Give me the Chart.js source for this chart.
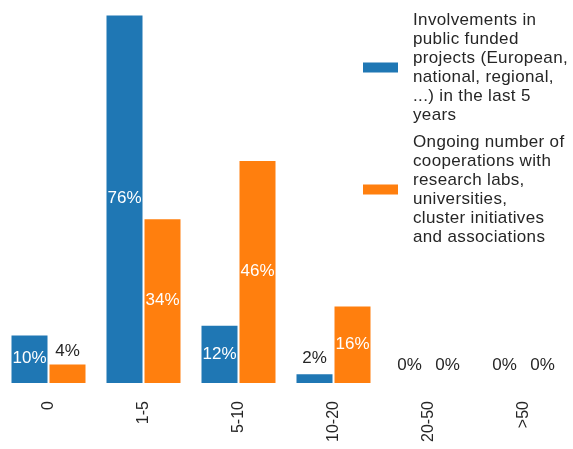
<!DOCTYPE html>
<html>
<head>
<meta charset="utf-8">
<script src="https://cdn.jsdelivr.net/npm/chart.js@4"></script>
<style>
  html, body { margin: 0; padding: 0; background: #fff; }
  #chart { display: block; }
</style>
</head>
<body>
<canvas id="chart" width="573" height="449"></canvas>
<script>
// Bins of the count question
const categories = ['0', '1-5', '5-10', '10-20', '20-50', '>50'];

// Share of answers per bin (%)
const publicProjects = [10, 76, 12, 2, 0, 0];
const researchCooperations = [4, 34, 46, 16, 0, 0];

// Legend text, already broken into lines
const publicProjectsLabel = ['Involvements in', 'public funded', 'projects (European,', 'national, regional,', '...) in the last 5', 'years'];
const researchCooperationsLabel = ['Ongoing number of', 'cooperations with', 'research labs,', 'universities,', 'cluster initiatives', 'and associations'];

const BLUE = '#1f77b4';
const ORANGE = '#ff7f0e';
const TEXT = '#262626';
const FONT = '"Liberation Sans", Arial, sans-serif';

// Percent labels: white inside tall bars, dark above short ones
const valueLabels = {
    id: 'valueLabels',
    afterDatasetsDraw(chart) {
        const ctx = chart.ctx;
        ctx.save();
        ctx.font = '17px ' + FONT;
        ctx.textAlign = 'center';
        ctx.textBaseline = 'middle';
        chart.data.datasets.forEach((ds, i) => {
            chart.getDatasetMeta(i).data.forEach((bar, j) => {
                const v = ds.data[j];
                if (v >= 10) {
                    ctx.fillStyle = '#fff';
                    ctx.fillText(v + '%', bar.x, (bar.y + bar.base) / 2);
                } else {
                    ctx.fillStyle = TEXT;
                    ctx.fillText(v + '%', bar.x, bar.y - (18 - 1.5 * v));
                }
            });
        });
        ctx.restore();
    }
};

// Legend drawn over the top right of the plot
const overlayLegend = {
    id: 'overlayLegend',
    afterDraw(chart) {
        const ctx = chart.ctx;
        const lineH = 19;
        const blocks = [
            { color: BLUE, lines: publicProjectsLabel, top: 20 },
            { color: ORANGE, lines: researchCooperationsLabel, top: 142 }
        ];
        ctx.save();
        ctx.font = '17px ' + FONT;
        ctx.letterSpacing = '0.35px';
        ctx.textAlign = 'left';
        ctx.textBaseline = 'middle';
        blocks.forEach(b => {
            const mid = b.top + (b.lines.length - 1) * lineH / 2;
            ctx.fillStyle = b.color;
            ctx.fillRect(363, mid - 5, 35, 10);
            ctx.fillStyle = TEXT;
            b.lines.forEach((line, k) => {
                ctx.fillText(line, 413, b.top + k * lineH);
            });
        });
        ctx.restore();
    }
};

const chart = new Chart(document.getElementById('chart'), {
    type: 'bar',
    data: {
        labels: categories,
        datasets: [
            {
                label: publicProjectsLabel.join(' '),
                data: publicProjects,
                backgroundColor: BLUE,
                borderColor: '#fff',
                borderWidth: 1,
                borderSkipped: 'start'
            },
            {
                label: researchCooperationsLabel.join(' '),
                data: researchCooperations,
                backgroundColor: ORANGE,
                borderColor: '#fff',
                borderWidth: 1,
                borderSkipped: 'start'
            }
        ]
    },
    options: {
        responsive: false,
        animation: false,
        devicePixelRatio: 1,
        layout: { padding: { left: 1, right: 2, top: 0, bottom: 0 } },
        datasets: {
            bar: { categoryPercentage: 0.8, barPercentage: 1 }
        },
        plugins: {
            legend: { display: false },
            tooltip: { enabled: false }
        },
        scales: {
            x: {
                grid: { display: false, drawTicks: false },
                border: { display: false },
                afterFit: (scale) => { scale.height = 66; },
                ticks: {
                    minRotation: 90,
                    maxRotation: 90,
                    padding: 18,
                    color: TEXT,
                    font: { family: FONT, size: 16 }
                }
            },
            y: {
                display: false,
                min: 0,
                max: 79
            }
        }
    },
    plugins: [valueLabels, overlayLegend]
});
</script>
</body>
</html>
